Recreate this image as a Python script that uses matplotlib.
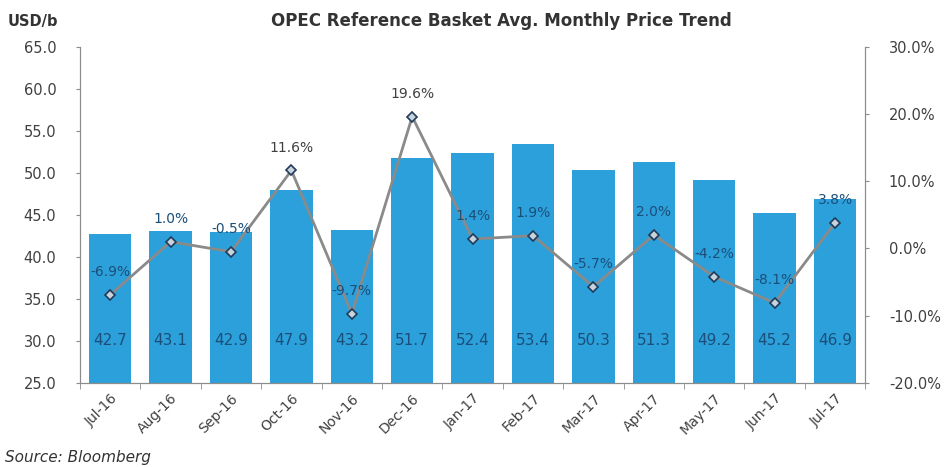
import matplotlib
matplotlib.use("Agg")
import matplotlib.pyplot as plt
from matplotlib.ticker import FixedLocator

plt.rcParams["font.family"] = ["DejaVu Sans"]

months = ["Jul-16", "Aug-16", "Sep-16", "Oct-16", "Nov-16", "Dec-16", "Jan-17",
          "Feb-17", "Mar-17", "Apr-17", "May-17", "Jun-17", "Jul-17"]
prices = [42.7, 43.1, 42.9, 47.9, 43.2, 51.7, 52.4, 53.4, 50.3, 51.3, 49.2, 45.2, 46.9]
changes = [-6.9, 1.0, -0.5, 11.6, -9.7, 19.6, 1.4, 1.9, -5.7, 2.0, -4.2, -8.1, 3.8]

bar_color = "#2CA0DA"
label_color = "#1B4F7A"
text_color = "#404040"
spine_color = "#8C8C8C"

fig = plt.figure(figsize=(9.46, 4.67), dpi=100)
ax = fig.add_axes([0.0846, 0.18, 0.83, 0.72])
x = list(range(len(months)))

ax.bar(x, prices, width=0.7, color=bar_color, zorder=2)
ax.set_ylim(25, 65)
ax.set_xlim(-0.5, len(months) - 0.5)
ax.set_yticks([25, 30, 35, 40, 45, 50, 55, 60, 65])
ax.set_yticklabels([f"{v:.1f}" for v in ax.get_yticks()], fontsize=10.5, color=text_color)
ax.set_xticks(x)
ax.set_xticklabels(months, rotation=45, ha="right", rotation_mode="anchor",
                   fontsize=10, color=text_color)
ax.tick_params(axis="x", which="major", length=0, pad=6)
ax.xaxis.set_minor_locator(FixedLocator([i - 0.5 for i in range(len(months) + 1)]))
ax.tick_params(axis="x", which="minor", length=4, color=spine_color)
ax.tick_params(axis="y", length=3, color=spine_color, pad=14)

for i, p in enumerate(prices):
    ax.text(i, 30, f"{p:.1f}", ha="center", va="center", fontsize=11, color=label_color, zorder=4)

ax.spines["top"].set_visible(False)
for s in ["left", "bottom", "right"]:
    ax.spines[s].set_color(spine_color)

ax2 = ax.twinx()
ax2.plot(x, changes, color="#8A8A8A", lw=2, marker="D", markersize=5,
         markerfacecolor="#C8D4DC", markeredgecolor="#1F3A5A", markeredgewidth=1.2, zorder=3)
ax2.set_ylim(-20, 30)
ax2.set_yticks([-20, -10, 0, 10, 20, 30])
ax2.set_yticklabels([f"{v:.1f}%" for v in ax2.get_yticks()], fontsize=10.5, color=text_color)
ax2.tick_params(axis="y", length=3, color=spine_color, pad=14)
ax2.spines["top"].set_visible(False)
for s in ["left", "bottom", "right"]:
    ax2.spines[s].set_color(spine_color)

for i, c in enumerate(changes):
    col = text_color if c > 8 else label_color
    ax2.text(i, c + 3.4, f"{c:.1f}%", ha="center", va="center", fontsize=10, color=col, zorder=4)

fig.text(0.53, 0.955, "OPEC Reference Basket Avg. Monthly Price Trend", ha="center", va="center",
         fontsize=12, fontweight="bold", color="#333333")
fig.text(0.008, 0.955, "USD/b", ha="left", va="center", fontsize=10.5, fontweight="bold", color="#333333")
fig.text(0.005, 0.02, "Source: Bloomberg", ha="left", va="center", fontsize=11, style="italic", color="#333333")

fig.savefig("out.png", dpi=100)
